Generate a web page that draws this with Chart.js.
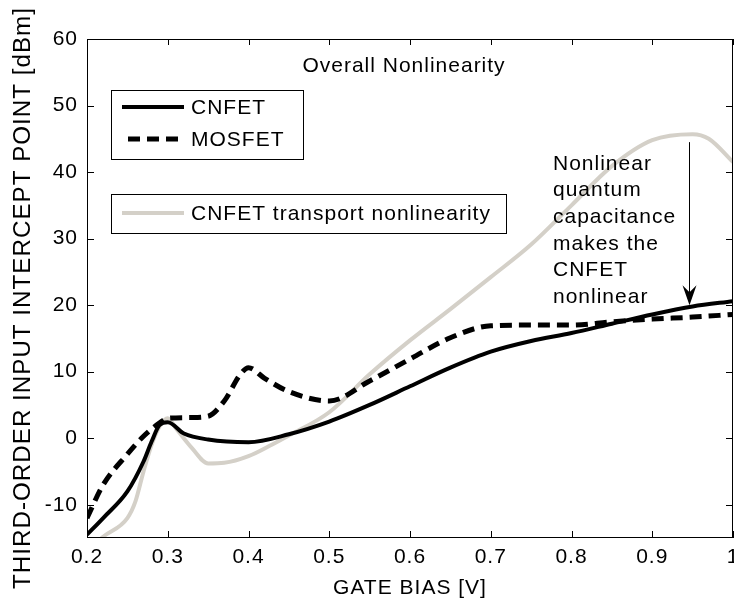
<!DOCTYPE html>
<html>
<head>
<meta charset="utf-8">
<script src="https://cdn.jsdelivr.net/npm/chart.js@4.4.0/dist/chart.umd.min.js"></script>
<style>
  html, body { margin: 0; padding: 0; background: #fff; }
  #wrap { width: 734px; height: 601px; position: relative; }
</style>
</head>
<body>
<div id="wrap"><canvas id="c" width="734" height="601"></canvas></div>
<script>
// --- data ---
const xTicks = [0.2, 0.3, 0.4, 0.5, 0.6, 0.7, 0.8, 0.9, 1.0];
const yTicks = [-10, 0, 10, 20, 30, 40, 50, 60];

const cnfetX = [0.2, 0.22, 0.25, 0.27, 0.28, 0.29, 0.3, 0.32, 0.35, 0.4, 0.45, 0.5, 0.55, 0.6, 0.65, 0.7, 0.75, 0.8, 0.85, 0.9, 0.95, 1.0];
const cnfetY = [-14.5, -12, -8, -3.5, -0.5, 2.0, 2.4, 0.7, -0.2, -0.6, 0.6, 2.5, 5.0, 7.8, 10.6, 13.0, 14.6, 15.8, 17.2, 18.6, 19.8, 20.6];

const mosfetX = [0.2, 0.22, 0.25, 0.27, 0.29, 0.3, 0.33, 0.35, 0.37, 0.39, 0.4, 0.42, 0.45, 0.5, 0.55, 0.6, 0.65, 0.7, 0.75, 0.8, 0.85, 0.9, 0.95, 1.0];
const mosfetY = [-12, -7, -2.4, 0.3, 2.3, 3.0, 3.1, 3.3, 5.6, 9.6, 10.6, 9.0, 7.0, 5.6, 8.6, 11.9, 15.1, 16.9, 17.0, 17.0, 17.5, 17.9, 18.2, 18.6];

const transX = [0.2, 0.22, 0.25, 0.26, 0.27, 0.28, 0.29, 0.3, 0.31, 0.33, 0.35, 0.37, 0.4, 0.43, 0.45, 0.5, 0.55, 0.6, 0.65, 0.7, 0.75, 0.8, 0.85, 0.9, 0.95, 0.97, 1.0];
const transY = [-17, -14.8, -12, -9.5, -5, -1, 1.8, 3.0, 1.5, -1.5, -3.8, -3.7, -2.7, -0.9, 0.4, 3.9, 9.6, 14.7, 19.4, 24.2, 29.1, 35.0, 40.9, 44.8, 45.7, 45.0, 41.5];

const yTitle = 'THIRD-ORDER INPUT INTERCEPT POINT [dBm]';

const FONT = "'Liberation Sans', Arial, sans-serif";
const FS = 21;

function pts(xs, ys) { return xs.map((x, i) => ({ x: x, y: ys[i] })); }

// the original lettering is a little wider than Arial
const spacing = {
  id: 'spacing',
  beforeDraw(chart) { chart.ctx.letterSpacing = '1px'; }
};

// frame, inward ticks, legend boxes, y title and annotation
const decor = {
  id: 'decor',
  afterDatasetsDraw(chart) {
    const ctx = chart.ctx;
    const a = chart.chartArea;
    const sx = chart.scales.x, sy = chart.scales.y;
    ctx.save();
    ctx.strokeStyle = '#000';
    ctx.lineWidth = 1;
    ctx.strokeRect(a.left + 0.5, a.top + 0.5, a.right - a.left - 1, a.bottom - a.top - 1);
    ctx.beginPath();
    xTicks.forEach(v => {
      const px = Math.round(sx.getPixelForValue(v)) + 0.5;
      ctx.moveTo(px, a.bottom); ctx.lineTo(px, a.bottom - 7);
      ctx.moveTo(px, a.top); ctx.lineTo(px, a.top + 6);
    });
    yTicks.forEach(v => {
      const py = Math.round(sy.getPixelForValue(v)) + 0.5;
      ctx.moveTo(a.left, py); ctx.lineTo(a.left + 7, py);
      ctx.moveTo(a.right, py); ctx.lineTo(a.right - 7, py);
    });
    ctx.stroke();

    // legend boxes
    const ds = chart.data.datasets;
    ctx.fillStyle = '#fff';
    ctx.fillRect(111, 90, 192, 69);
    ctx.fillRect(111, 194, 395, 39);
    ctx.strokeStyle = '#000';
    ctx.lineWidth = 1;
    ctx.strokeRect(111.5, 90.5, 192, 69);
    ctx.strokeRect(111.5, 194.5, 395, 39);

    ctx.font = FS + 'px ' + FONT;
    ctx.letterSpacing = '1px';
    ctx.textBaseline = 'middle';
    ctx.textAlign = 'left';
    const rows = [[0, 107, 122], [1, 139, 128], [2, 213, 122]];
    rows.forEach(([i, y, x0]) => {
      const d = ds[i];
      ctx.save();
      ctx.strokeStyle = d.borderColor;
      ctx.lineWidth = d.borderWidth;
      ctx.setLineDash(d.borderDash || []);
      ctx.beginPath();
      ctx.moveTo(x0, y); ctx.lineTo(184, y);
      ctx.stroke();
      ctx.restore();
      ctx.fillStyle = '#000';
      ctx.fillText(d.label, 191, y + 1);
    });

    // title inside the axes
    ctx.textAlign = 'center';
    ctx.fillText('Overall Nonlinearity', 404, 66);

    // annotation text
    ctx.textAlign = 'left';
    const note = ['Nonlinear', 'quantum', 'capacitance', 'makes the', 'CNFET', 'nonlinear'];
    note.forEach((t, i) => ctx.fillText(t, 553, 164 + i * 26.6));

    // arrow
    const ax = Math.round(sx.getPixelForValue(0.945)) + 0.5;
    const y1 = sy.getPixelForValue(44.5);
    const y2 = sy.getPixelForValue(20.0);
    ctx.strokeStyle = '#000';
    ctx.lineWidth = 1;
    ctx.beginPath();
    ctx.moveTo(ax, y1); ctx.lineTo(ax, y2 - 12);
    ctx.stroke();
    ctx.fillStyle = '#000';
    ctx.beginPath();
    ctx.moveTo(ax, y2);
    ctx.lineTo(ax - 7, y2 - 20);
    ctx.lineTo(ax, y2 - 13);
    ctx.lineTo(ax + 7, y2 - 20);
    ctx.closePath();
    ctx.fill();

    // y axis title (sits a bit lower than the plot centre in the original)
    ctx.save();
    ctx.translate(23, 298);
    ctx.rotate(-Math.PI / 2);
    ctx.font = '24.2px ' + FONT;
    ctx.textAlign = 'center';
    ctx.textBaseline = 'middle';
    ctx.fillText(yTitle, 0, 0);
    ctx.restore();
    ctx.restore();
  }
};

Chart.defaults.font.family = FONT;
Chart.defaults.font.size = FS;
Chart.defaults.color = '#000';

new Chart(document.getElementById('c'), {
  type: 'line',
  data: {
    datasets: [
      {
        label: 'CNFET',
        data: pts(cnfetX, cnfetY),
        borderColor: '#000',
        borderWidth: 4,
        order: 1
      },
      {
        label: 'MOSFET',
        data: pts(mosfetX, mosfetY),
        borderColor: '#000',
        borderWidth: 5,
        borderDash: [12, 7],
        order: 2
      },
      {
        label: 'CNFET transport nonlinearity',
        data: pts(transX, transY),
        borderColor: '#d4d0c8',
        borderWidth: 4,
        order: 3
      }
    ]
  },
  options: {
    responsive: false,
    animation: false,
    events: [],
    elements: {
      point: { radius: 0 },
      line: { cubicInterpolationMode: 'monotone', borderCapStyle: 'butt', borderJoinStyle: 'round' }
    },
    layout: { padding: { top: 39, right: 1, left: 0, bottom: 0 } },
    plugins: {
      legend: { display: false },
      tooltip: { enabled: false }
    },
    scales: {
      x: {
        type: 'linear',
        min: 0.2,
        max: 1.0,
        grid: { display: false, drawTicks: false },
        border: { display: false },
        afterBuildTicks: s => { s.ticks = xTicks.map(v => ({ value: v })); },
        afterFit: s => { s.height = 63; s.paddingLeft = 0; s.paddingRight = 0; },
        ticks: {
          padding: 7,
          maxRotation: 0,
          autoSkip: false,
          callback: v => (v === 1 ? '1' : String(Math.round(v * 10) / 10))
        },
        title: { display: true, text: 'GATE BIAS [V]', padding: { top: 0, bottom: 0 }, font: { size: FS } }
      },
      y: {
        min: -15,
        max: 60,
        grid: { display: false, drawTicks: false },
        border: { display: false },
        afterBuildTicks: s => { s.ticks = yTicks.map(v => ({ value: v })); },
        afterFit: s => { s.width = 87; s.paddingTop = 0; s.paddingBottom = 0; },
        ticks: { padding: 9 },
        title: { display: false }
      }
    }
  },
  plugins: [spacing, decor]
});
</script>
</body>
</html>
